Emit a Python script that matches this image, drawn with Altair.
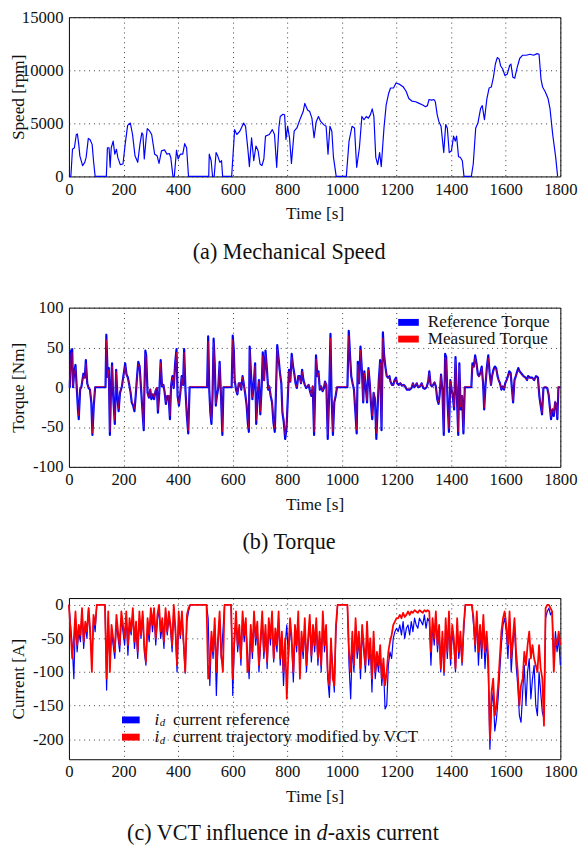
import altair as alt
import pandas as pd

# ---------------- data ----------------
SPEED = [(0,0),(7,0),(13,2560),(20,2700),(27,3950),(31,4000),(36,3020),(40,1940),(50,1020),(58,1330),
         (63,1790),(71,3580),(77,3490),(85,3020),(90,1480),(96,0),(137,0),(141,2700),(147,2700),(151,860),
         (155,2700),(162,3330),(168,2100),(174,2560),(179,1790),(188,1110),(198,1170),(206,3020),(215,4810),
         (225,5030),(233,3950),(242,1940),(252,1330),(260,3020),(267,4100),(271,3950),(276,1640),(283,3640),
         (287,4500),(296,4260),(303,3950),(314,2100),(323,1940),(330,1230),(339,2410),(350,2500),(359,2100),
         (368,2160),(373,1790),(381,0),(386,0),(394,2470),(400,1640),(408,2100),(417,2100),(424,3090),
         (431,2700),(438,0),(512,0),(514,2100),(521,1480),(526,0),(532,0),(539,2250),(545,1940),(553,1330),
         (559,1480),(563,0),(596,0),(607,4410),(615,3950),(626,4260),(640,5030),(647,4720),(656,2410),
         (661,930),(669,3640),(677,1480),(685,2870),(693,2410),(700,1170),(707,1020),(714,1640),(720,3800),
         (734,3950),(745,4410),(753,3950),(761,860),(769,4570),(774,5650),(784,5860),(790,5800),(795,3490),
         (801,4720),(808,3640),(815,1230),(825,4260),(835,4570),(848,5490),(858,6110),(864,6880),(874,6260),
         (882,6110),(890,5490),(898,3640),(906,5180),(914,5650),(922,5180),(933,4880),(942,4720),(949,2100),
         (956,4720),(963,4260),(969,1790),(979,0),(1016,0),(1026,3330),(1037,4720),(1046,4570),(1054,860),
         (1064,2700),(1073,5650),(1081,5340),(1089,5650),(1097,5490),(1104,5800),(1111,6360),(1117,5650),
         (1124,1790),(1131,1110),(1138,2250),(1144,930),(1154,4570),(1162,6730),(1171,7810),(1178,8330),
         (1189,8330),(1198,8800),(1212,8670),(1225,8420),(1235,8020),(1245,7340),(1256,7100),(1270,7040),
         (1283,6880),(1296,6730),(1306,6570),(1313,6670),(1319,7250),(1329,7190),(1337,7250),(1342,7040),
         (1349,5800),(1355,5180),(1363,4720),(1373,2250),(1380,4880),(1386,4570),(1393,2250),(1401,2410),
         (1409,3800),(1415,3330),(1420,3800),(1427,1850),(1434,1790),(1441,1480),(1447,0),(1474,0),
         (1481,1170),(1490,4570),(1498,5030),(1508,6420),(1514,6670),(1522,5340),(1531,7340),(1539,8330),
         (1547,8420),(1555,9350),(1562,10590),(1569,11200),(1576,11050),(1581,10430),(1589,10120),
         (1597,9500),(1606,9660),(1614,10430),(1619,10590),(1626,9350),(1633,9260),(1642,10280),
         (1651,11110),(1662,11420),(1675,11420),(1689,11510),(1702,11420),(1715,11570),(1722,11510),
         (1729,9200),(1735,8420),(1745,7960),(1755,7340),(1762,6420),(1772,3950),(1783,1790),(1790,0)]

TORQUE_REF = [(0,0),(3,0),(8,46),(12,48),(15,0),(19,18),(24,28),(29,-3),(33,-28),(36,-40),(41,-3),(46,1),
    (53,17),(58,12),(62,34),(67,5),(72,-1),(77,-3),(82,-19),(86,-60),(91,-23),(96,0),(134,0),(137,66),
    (142,13),(146,24),(150,-60),(155,9),(158,30),(162,-11),(168,-46),(173,22),(178,-15),(182,-30),(187,-7),
    (194,1),(202,20),(206,30),(211,16),(216,12),(221,3),(226,-7),(230,-19),(235,-23),(240,-30),(245,-9),
    (250,16),(254,32),(259,26),(264,-1),(269,-28),(274,-54),(276,-11),(280,46),(283,40),(288,-7),(293,-13),
    (298,-3),(302,-15),(307,-9),(312,-15),(317,-5),(322,-1),(326,-32),(331,-7),(336,34),(341,1),(346,3),
    (350,-5),(355,-21),(360,-11),(365,-11),(370,-40),(374,1),(379,14),(384,-1),(389,30),(394,48),(398,-11),
    (403,-23),(408,-7),(413,14),(418,3),(422,48),(427,-5),(432,-36),(437,-58),(442,0),(506,0),(510,64),
    (514,-3),(518,-32),(522,-46),(526,-11),(530,61),(534,30),(538,-23),(542,-11),(547,-1),(552,32),(557,-11),
    (562,-60),(566,0),(596,0),(600,65),(604,46),(607,9),(612,-3),(617,-9),(622,5),(627,5),(631,-3),(636,14),
    (641,3),(646,-9),(651,-23),(655,-44),(659,-56),(662,51),(667,16),(672,-15),(677,5),(682,30),(686,-46),
    (691,-11),(696,9),(701,-34),(706,1),(710,44),(715,9),(720,46),(725,24),(730,-3),(734,1),(739,-11),
    (744,-19),(749,-44),(754,-56),(758,-11),(763,53),(768,36),(773,18),(778,5),(782,-32),(787,-44),(792,-65),
    (797,-52),(802,-11),(806,22),(811,7),(816,42),(821,26),(826,16),(830,5),(835,-1),(840,14),(845,14),
    (850,5),(854,22),(859,9),(864,3),(869,-1),(874,1),(878,3),(883,-5),(888,-11),(893,1),(898,-60),(905,40),
    (910,14),(914,20),(919,-3),(924,1),(929,-5),(934,-1),(938,7),(943,3),(948,-65),(953,-11),(958,67),
    (962,-11),(967,-60),(972,-19),(977,-11),(982,0),(1020,0),(1025,71),(1030,38),(1034,14),(1039,5),
    (1044,-3),(1049,-30),(1054,-58),(1058,32),(1063,5),(1068,51),(1073,22),(1078,-19),(1082,20),(1087,1),
    (1092,-19),(1097,24),(1102,5),(1106,-19),(1111,-40),(1116,-7),(1121,-15),(1126,-65),(1130,-32),(1135,9),
    (1140,34),(1145,-54),(1150,69),(1154,42),(1159,26),(1164,14),(1169,12),(1174,14),(1178,7),(1183,3),
    (1188,3),(1193,9),(1198,12),(1202,5),(1208,3),(1214,5),(1220,2),(1226,3),(1232,1),(1238,-3),(1248,-3),
    (1255,-1),(1260,5),(1265,0),(1270,2),(1274,5),(1279,0),(1286,1),(1292,5),(1298,-1),(1304,-2),(1310,0),
    (1316,7),(1320,20),(1325,3),(1330,1),(1334,3),(1339,6),(1344,1),(1349,-15),(1354,-21),(1358,-9),
    (1363,16),(1368,-3),(1373,-60),(1378,42),(1382,38),(1387,-19),(1392,-56),(1397,9),(1402,-3),(1406,-11),
    (1411,-28),(1416,38),(1421,-11),(1426,-60),(1430,30),(1435,-28),(1440,-11),(1445,-58),(1450,0),(1474,0),
    (1478,30),(1483,26),(1488,40),(1493,30),(1498,16),(1502,14),(1507,18),(1512,26),(1517,5),(1521,-28),
    (1526,3),(1531,26),(1536,40),(1541,18),(1546,3),(1550,14),(1555,22),(1560,26),(1565,24),(1570,14),
    (1574,9),(1579,5),(1584,-3),(1589,1),(1594,-3),(1598,5),(1603,9),(1608,14),(1613,20),(1618,18),(1622,1),
    (1627,-19),(1632,9),(1637,14),(1642,20),(1646,24),(1651,20),(1658,17),(1665,14),(1673,12),(1678,9),
    (1682,14),(1689,12),(1697,12),(1704,9),(1711,14),(1718,12),(1723,-11),(1728,-23),(1733,-34),(1738,-1),
    (1745,0),(1752,-1),(1757,-9),(1761,-23),(1766,-40),(1771,-28),(1776,-36),(1781,-19),(1786,-23),
    (1789,-40),(1793,0),(1800,0)]

# measured torque, one value per reference time stamp
TORQUE_MEAS_V = [1,1,42,44,2,16,25,-2,-25,-36,-2,2,15,11,30,5,0,-2,-17,-58,-20,1,1,60,12,22,-56,8,27,-10,
    -42,20,-13,-27,-6,2,18,27,15,11,3,-6,-17,-21,-27,-8,15,29,24,0,-25,-50,-10,42,37,-6,-12,-2,-13,-8,-13,
    -4,0,-29,-6,31,2,3,-4,-19,-10,-10,-36,2,13,0,27,44,-10,-21,-6,13,3,44,-4,-33,-55,1,1,58,-2,-29,-42,-10,
    56,27,-21,-10,0,29,-10,-56,1,1,60,42,8,-2,-8,5,5,-2,13,3,-8,-21,-40,-52,47,15,-13,5,27,-42,-10,8,-31,2,
    40,8,42,22,-2,2,-10,-17,-40,-52,-10,48,33,16,5,-29,-40,-60,-48,-10,20,7,38,24,15,5,0,13,13,5,20,8,3,0,
    2,3,-4,-10,2,-56,36,13,18,-2,2,-4,0,7,3,-60,-10,62,-10,-56,-17,-10,1,1,65,35,13,5,-2,-27,-54,29,5,47,
    20,-17,18,2,-17,22,5,-17,-36,-6,-13,-58,-29,8,31,-50,62,40,25,14,12,13,7,3,3,8,11,5,3,5,2,3,1,-2,-2,0,
    5,1,2,5,1,1,5,0,-1,1,6,18,3,1,3,6,1,-13,-19,-8,15,-2,-56,38,35,-17,-52,8,-2,-10,-25,35,-10,-56,27,-25,
    -10,-54,1,1,27,24,37,27,15,13,16,24,5,-26,3,24,37,17,3,13,20,24,22,13,8,5,-2,1,-2,5,8,13,18,17,1,-17,
    8,13,18,22,19,16,13,11,9,13,11,11,9,13,11,-10,-21,-32,0,1,0,-8,-21,-37,-26,-33,-17,-21,-37,1,1]

CUR_T = list(range(0, 1801, 6))
CUR_REF = [
    0,-30,-60,-110,-20,-70,-40,-55,-10,-65,-30,-50,-5,-45,-80,-20,-40,
    0,0,0,0,0,0,
    -127,-20,-90,-40,-60,-80,-25,-50,-70,-20,-40,
    -60,-20,-75,-30,-45,-10,-65,-35,-80,-20,-50,-15,-70,-90,-30,-55,-10,
    -40,-15,-60,-25,-5,-50,-30,-65,-10,-45,-20,-35,-70,-5,-40,-100,-20,-50,-15,-60,-102,-25,-10,
    0,0,0,0,0,0,0,0,0,0,0,
    -20,-120,-50,-80,-30,-135,-60,-20,-80,-40,
    0,0,0,0,0,
    -135,-60,-20,-70,-40,-90,-20,-55,-30,-70,-110,-40,-80,-20,-60,-35,-100,
    -60,-20,-80,-40,-95,-30,-60,-15,-85,-45,-70,-20,-90,-50,-120,-60,-30,
    -80,-30,-60,-115,-40,-70,-20,-90,-50,-80,-30,-100,-60,-25,-85,-40,-70,
    -30,-90,-50,-100,-20,-70,-40,-110,-138,-60,-90,-130,-40,
    0,0,0,0,0,0,0,
    -90,-140,-60,-100,-30,-80,-50,-110,-40,-70,-100,-35,-90,
    -60,-130,-50,-110,-80,-100,-70,-120,-90,-155,-150,-90,-70,-80,-50,-40,-35,
    -40,-30,-45,-25,-50,-35,-30,-45,-25,-40,-20,-30,-35,-20,-25,-30,-15,-35,-20,-25,
    -90,-30,-60,-20,-70,-40,-100,-50,-105,-30,-80,-20,-90,-40,-60,-100,-30,-80,-50,-90,-40,
    0,0,0,0,0,
    -30,-70,-20,-90,-40,-80,-25,-95,-50,-100,
    -215,-150,-130,-188,-170,-140,-100,-60,-30,-20,
    -40,-80,-20,-100,-60,-30,-90,-120,
    -165,-175,-130,-90,-150,-100,-80,-140,-110,
    -90,-150,-165,-100,-130,-160,-170,
    -20,-10,-5,-15,-10,
    -90,-40,-70,-50,-90]
CUR_VCT = [
    0,-40,-80,-50,-10,-60,-30,-45,-5,-55,-25,-40,-5,-40,-100,-15,-30,
    0,0,0,0,0,0,
    -110,-10,-100,-30,-50,-70,-15,-40,-60,-10,-30,
    -50,-10,-60,-20,-40,-5,-55,-25,-70,-10,-45,-10,-60,-85,-20,-45,-5,
    -30,-5,-50,-15,0,-40,-20,-55,-5,-40,-10,-30,-60,0,-35,-90,-10,-45,-10,-55,-100,-15,-5,
    0,0,0,0,0,0,0,0,0,0,0,
    -110,-90,-40,-70,-20,-100,-50,-10,-75,-100,
    0,0,0,0,0,
    -110,-50,-10,-60,-30,-80,-10,-45,-20,-100,-90,-30,-70,-10,-50,-25,-90,
    -50,-10,-70,-30,-85,-20,-50,-10,-80,-35,-60,-10,-80,-40,-100,-50,-140,
    -70,-20,-50,-100,-30,-60,-10,-110,-40,-70,-20,-90,-50,-15,-75,-30,-60,
    -20,-80,-40,-90,-10,-60,-30,-100,-120,-50,-110,-120,-30,
    0,0,0,0,0,0,0,
    -70,-100,-40,-90,-20,-70,-40,-95,-30,-60,-90,-25,-80,
    -50,-110,-40,-100,-70,-90,-60,-110,-80,-120,-100,-70,-55,-45,-30,-25,-20,
    -20,-15,-20,-12,-18,-15,-10,-15,-10,-12,-8,-10,-12,-8,-10,-12,-8,-10,-8,-10,
    -70,-20,-50,-10,-60,-30,-95,-40,-100,-20,-70,-10,-80,-30,-50,-95,-20,-70,-40,-85,-30,
    0,0,0,0,0,
    -20,-60,-10,-70,-30,-65,-15,-70,-40,-80,
    -200,-130,-110,-165,-150,-120,-80,-40,-20,-10,
    -30,-60,-10,-80,-50,-20,-70,-100,
    -150,-120,-110,-70,-90,-60,-40,-80,-60,
    -80,-90,-100,-60,-95,-110,-180,
    -5,0,0,-5,-10,
    -100,-50,-60,-40,-60]

X_TICKS = [0, 200, 400, 600, 800, 1000, 1200, 1400, 1600, 1800]
SPEED_TICKS = [0, 5000, 10000, 15000]
TORQUE_TICKS = [-100, -50, 0, 50, 100]
CUR_TICKS = [-200, -150, -100, -50, 0]

CAPTION_A = "(a) Mechanical Speed"
CAPTION_B = "(b) Torque"
CAPTION_C = ["(c) VCT influence in", "d", "-axis current"]

# ---------------- styling ----------------
FONT = "Liberation Serif, Times New Roman, Times, DejaVu Serif, serif"
BLUE = "#0000ff"
RED = "#ff0000"
INK = "#111111"
W = 500
AX_STYLE = dict(labelFont=FONT, labelFontSize=17, labelColor=INK, labelFontWeight="normal",
                titleFont=FONT, titleFontSize=17.5, titleFontWeight="normal", titleColor=INK,
                ticks=False, tickSize=0, domain=False, grid=True, gridColor="#222222",
                gridDash=[1, 4], gridWidth=1, gridOpacity=0.9, labelFlush=False,
                labelOverlap=False, labelExpr="'' + datum.value")

speed_df = pd.DataFrame(SPEED, columns=["t", "v"])
tref_df = pd.DataFrame(TORQUE_REF, columns=["t", "v"])
tmeas_df = pd.DataFrame([(t, v) for (t, _), v in zip(TORQUE_REF, TORQUE_MEAS_V)], columns=["t", "v"])
cref_df = pd.DataFrame(list(zip(CUR_T, CUR_REF)), columns=["t", "v"])
cvct_df = pd.DataFrame(list(zip(CUR_T, CUR_VCT)), columns=["t", "v"])
ONE = pd.DataFrame({"k": [0]})


def xenc():
    return alt.X("t:Q", scale=alt.Scale(domain=[0, 1800], nice=False, zero=False),
                 axis=alt.Axis(values=X_TICKS, title="Time [s]", labelPadding=5,
                               titleY=38, titleBaseline="middle", **AX_STYLE))


def yenc(domain, ticks, title):
    return alt.Y("v:Q", scale=alt.Scale(domain=domain, nice=False, zero=False),
                 axis=alt.Axis(values=ticks, title=title, labelPadding=6,
                               titleX=-51, titleBaseline="middle", **AX_STYLE))


def line(df, color, width, ydom, yticks, ytitle, opacity=1.0):
    return alt.Chart(df).mark_line(color=color, strokeWidth=width, opacity=opacity,
                                   strokeJoin="round").encode(
        x=xenc(), y=yenc(ydom, yticks, ytitle))


def txt(text, x, y, size, align="center", style="normal"):
    return alt.Chart(ONE).mark_text(text=text, font=FONT, fontSize=size, fontStyle=style,
                                    fontWeight="normal", align=align, baseline="middle",
                                    color=INK).encode(x=alt.value(x), y=alt.value(y))


def box(x1, x2, y1, y2, color):
    return alt.Chart(ONE).mark_rect(color=color).encode(
        x=alt.value(x1), x2=alt.value(x2), y=alt.value(y1), y2=alt.value(y2))


SP_DOM = [0, 15000]
TQ_DOM = [-100, 100]
CU_DOM = [-230, 10]
CAP = 22.5
LEG = 17.5

p1 = alt.layer(
    line(speed_df, BLUE, 1.2, SP_DOM, SPEED_TICKS, "Speed [rpm]"),
    txt(CAPTION_A, 224, 239, CAP),
).properties(width=W, height=162)

p2 = alt.layer(
    line(tref_df, BLUE, 2.2, TQ_DOM, TORQUE_TICKS, "Torque [Nm]"),
    line(tmeas_df, RED, 1.0, TQ_DOM, TORQUE_TICKS, "Torque [Nm]", opacity=0.6),
    box(335, 356, 11.5, 18.5, BLUE),
    box(335, 356, 28.5, 35.5, RED),
    txt("Reference Torque", 365, 15, LEG, align="left"),
    txt("Measured Torque", 365, 32.5, LEG, align="left"),
    txt(CAPTION_B, 224, 239, CAP),
).properties(width=W, height=162)

XD = 252
p3 = alt.layer(
    line(cref_df, BLUE, 1.2, CU_DOM, CUR_TICKS, "Current [A]"),
    line(cvct_df, RED, 1.8, CU_DOM, CUR_TICKS, "Current [A]"),
    box(54, 72, 120.5, 127.5, BLUE),
    box(54, 72, 138, 145, RED),
    txt("i", 87, 124, LEG, align="left", style="italic"),
    txt("d", 92.5, 127.5, 11, align="left", style="italic"),
    txt("current reference", 106, 124, LEG, align="left"),
    txt("i", 87, 141.5, LEG, align="left", style="italic"),
    txt("d", 92.5, 145, 11, align="left", style="italic"),
    txt("current trajectory modified by VCT", 106, 141.5, LEG, align="left"),
    txt(CAPTION_C[0], XD - 5.6, 239, CAP, align="right"),
    txt(CAPTION_C[1], XD, 239, CAP, align="left", style="italic"),
    txt(CAPTION_C[2], XD + 11.3, 239, CAP, align="left"),
).properties(width=W, height=164)

chart = alt.vconcat(p1, p2, p3, spacing=133.5, bounds="flush").properties(
    padding={"left": 1, "top": -8, "right": 2, "bottom": 0}
).configure_view(stroke="#000000", strokeWidth=1)

chart.save("out.html", embed_options={"renderer": "svg", "actions": False})
